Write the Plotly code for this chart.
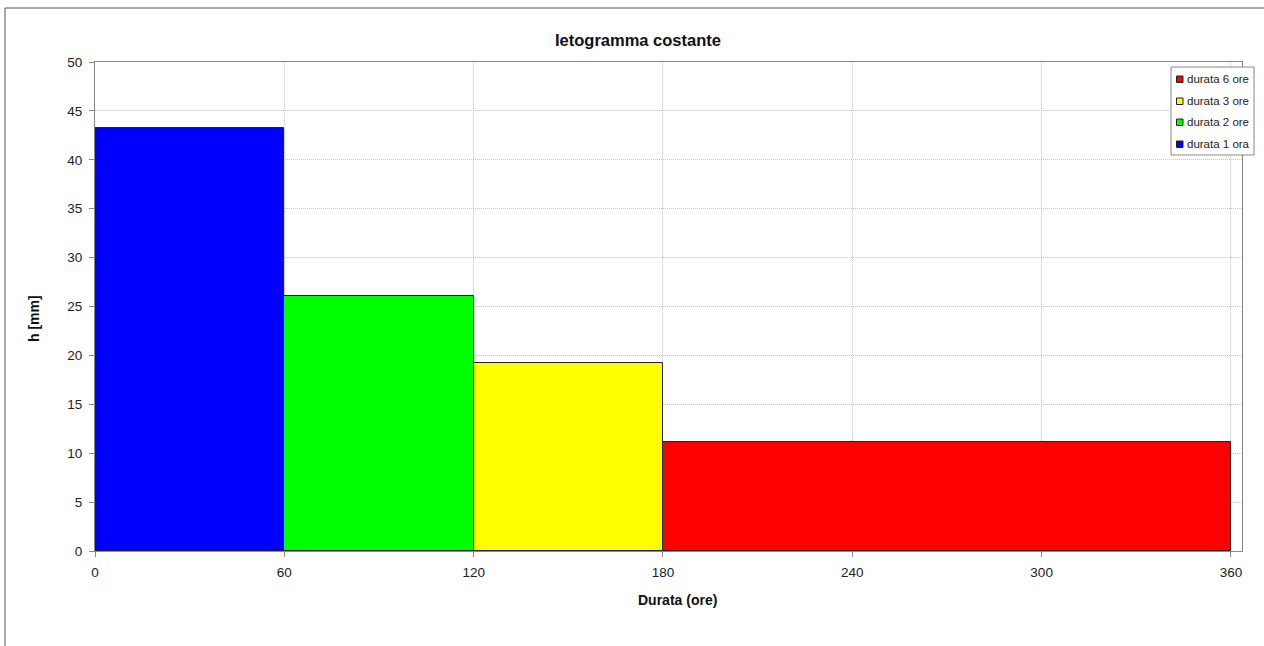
import plotly.graph_objects as go

# Durate di pioggia (minuti) e altezze di pioggia costante per ciascuna durata
durate = [60, 120, 180, 360]
altezze = [43.3, 26.1, 19.2, 11.1]
nomi = ["durata 1 ora", "durata 2 ore", "durata 3 ore", "durata 6 ore"]
colori = ["#0000ff", "#00ff00", "#ffff00", "#ff0000"]
x_ticks = [0, 60, 120, 180, 240, 300, 360]
y_ticks = [0, 5, 10, 15, 20, 25, 30, 35, 40, 45, 50]

W, H = 1264, 646
L, R, T, B = 95, 22, 62, 95
PW, PH = W - L - R, H - T - B


def px_x(px):
    # pixel orizzontale -> coordinata paper
    return (px - L) / PW


def px_y(py):
    # pixel verticale -> coordinata paper
    return (H - B - py) / PH


fig = go.Figure()

inizio = 0
for d, h, nome, col in zip(durate, altezze, nomi, colori):
    fig.add_trace(go.Bar(
        x=[(inizio + d) / 2],
        y=[h],
        width=[d - inizio],
        name=nome,
        marker=dict(color=col, line=dict(color="#222222", width=1)),
        hoverinfo="x+y",
        showlegend=False,
    ))
    inizio = d

font_base = "Arial, Liberation Sans, sans-serif"
axis_common = dict(
    ticks="outside",
    ticklen=5,
    tickcolor="#888888",
    showline=True,
    linecolor="#888888",
    linewidth=1,
    mirror=True,
    showgrid=True,
    gridcolor="#c4c4c4",
    griddash="1px,1px",
    zeroline=False,
    tickfont=dict(size=13.5, color="#222222"),
    ticklabelstandoff=4,
)

shapes = [
    # cornice esterna del grafico
    dict(
        type="rect", xref="paper", yref="paper",
        x0=px_x(5), x1=px_x(1275), y0=px_y(665), y1=px_y(8),
        line=dict(color="#555555", width=1),
        fillcolor="rgba(0,0,0,0)", layer="below",
    ),
    # riquadro della legenda
    dict(
        type="rect", xref="paper", yref="paper",
        x0=px_x(1171), x1=px_x(1254), y0=px_y(155), y1=px_y(67),
        line=dict(color="#888888", width=1),
        fillcolor="white", layer="above",
    ),
]
annotations = [
    dict(text="<b>Ietogramma costante</b>", xref="paper", yref="paper",
         x=px_x(638), y=px_y(40), xanchor="center", yanchor="middle",
         showarrow=False, font=dict(size=16.5, color="#111111")),
    dict(text="<b>Durata (ore)</b>", xref="paper", yref="paper",
         x=px_x(677), y=px_y(600), xanchor="center", yanchor="middle",
         showarrow=False, font=dict(size=14, color="#111111")),
    dict(text="<b>h [mm]</b>", xref="paper", yref="paper",
         x=px_x(34), y=px_y(318), xanchor="center", yanchor="middle",
         textangle=-90, showarrow=False, font=dict(size=14, color="#111111")),
]

# voci della legenda, dalla durata maggiore alla minore
riga_y = [79, 101, 122, 144]
for yy, nome, col in zip(riga_y, nomi[::-1], colori[::-1]):
    shapes.append(dict(
        type="rect", xref="paper", yref="paper",
        x0=px_x(1176.5), x1=px_x(1183), y0=px_y(yy + 3.5), y1=px_y(yy - 3),
        line=dict(color="#222222", width=1), fillcolor=col, layer="above",
    ))
    annotations.append(dict(
        text=nome, xref="paper", yref="paper",
        x=px_x(1185), y=px_y(yy), xanchor="left", yanchor="middle",
        showarrow=False, font=dict(size=11.5, color="#222222"),
    ))

fig.update_layout(
    width=W,
    height=H,
    margin=dict(l=L, r=R, t=T, b=B, autoexpand=False),
    paper_bgcolor="white",
    plot_bgcolor="white",
    font=dict(family=font_base, size=12, color="#222222"),
    bargap=0,
    barmode="overlay",
    showlegend=False,
    xaxis=dict(range=[0, 363.5], tickvals=x_ticks, **axis_common),
    yaxis=dict(range=[0, 50], tickvals=y_ticks, **axis_common),
    shapes=shapes,
    annotations=annotations,
)

fig.write_html("out.html")
